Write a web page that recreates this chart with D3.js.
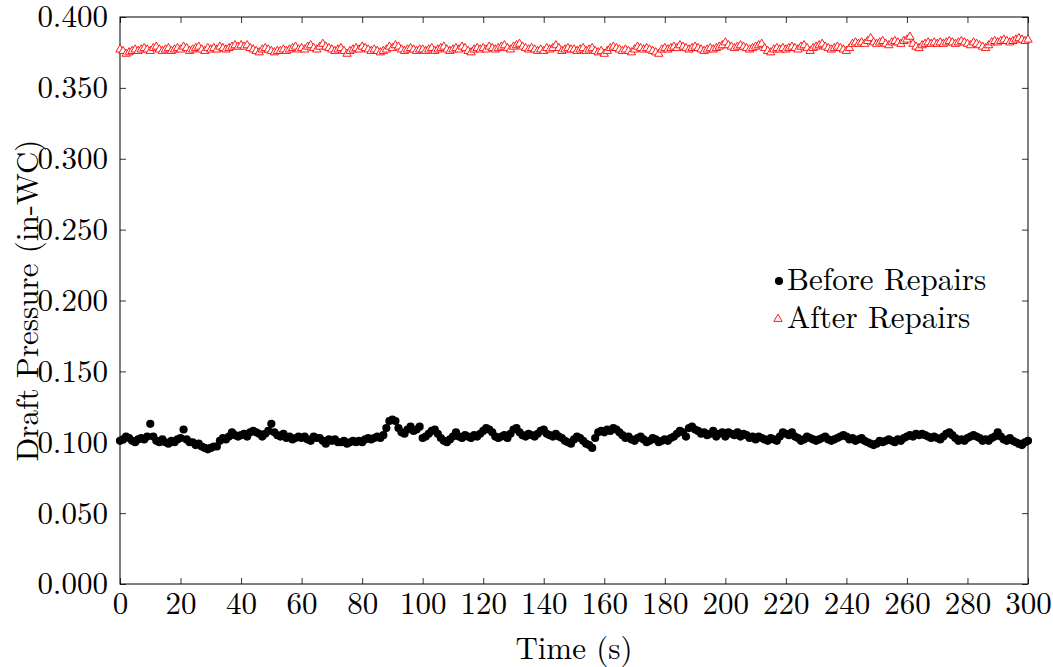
<!DOCTYPE html>
<html>
<head>
<meta charset="utf-8">
<script src="https://cdn.jsdelivr.net/npm/d3@7"></script>
<style>
  body { margin: 0; background: #fff; }
  svg text { font-family: "Latin Modern Roman", "CMU Serif", "DejaVu Serif", serif; }
</style>
</head>
<body>
<svg id="viz"></svg>
<script>
/* Data */

const seriesNames = ["Before Repairs", "After Repairs"];

const before = [
  0.101, 0.102, 0.104, 0.103, 0.101, 0.100, 0.102, 0.103, 0.102, 0.104,
  0.113, 0.104, 0.101, 0.100, 0.102, 0.100, 0.099, 0.101, 0.100, 0.102,
  0.103, 0.109, 0.102, 0.100, 0.100, 0.098, 0.099, 0.097, 0.096, 0.095,
  0.096, 0.097, 0.097, 0.101, 0.103, 0.102, 0.104, 0.107, 0.105, 0.104,
  0.105, 0.106, 0.104, 0.107, 0.108, 0.107, 0.106, 0.104, 0.106, 0.108,
  0.113, 0.107, 0.105, 0.104, 0.106, 0.103, 0.104, 0.102, 0.103, 0.104,
  0.103, 0.104, 0.102, 0.101, 0.104, 0.103, 0.103, 0.101, 0.099, 0.102,
  0.101, 0.102, 0.100, 0.100, 0.101, 0.099, 0.100, 0.101, 0.100, 0.101,
  0.100, 0.102, 0.103, 0.102, 0.103, 0.104, 0.103, 0.105, 0.110, 0.115,
  0.116, 0.115, 0.110, 0.107, 0.106, 0.109, 0.111, 0.108, 0.109, 0.111,
  0.103, 0.104, 0.106, 0.108, 0.109, 0.106, 0.103, 0.101, 0.100, 0.102,
  0.104, 0.107, 0.104, 0.103, 0.105, 0.104, 0.103, 0.105, 0.104, 0.106,
  0.108, 0.110, 0.109, 0.107, 0.104, 0.103, 0.104, 0.105, 0.103, 0.106,
  0.109, 0.110, 0.107, 0.105, 0.104, 0.106, 0.105, 0.104, 0.106, 0.108,
  0.109, 0.106, 0.105, 0.104, 0.106, 0.104, 0.103, 0.101, 0.100, 0.099,
  0.102, 0.104, 0.103, 0.101, 0.099, 0.098, 0.096, 0.103, 0.107, 0.108,
  0.107, 0.109, 0.108, 0.110, 0.109, 0.107, 0.105, 0.103, 0.104, 0.102,
  0.101, 0.103, 0.104, 0.102, 0.100, 0.101, 0.103, 0.102, 0.100, 0.101,
  0.102, 0.101, 0.103, 0.104, 0.106, 0.108, 0.107, 0.104, 0.110, 0.111,
  0.109, 0.108, 0.106, 0.107, 0.105, 0.106, 0.108, 0.104, 0.106, 0.107,
  0.104, 0.107, 0.106, 0.105, 0.107, 0.104, 0.106, 0.105, 0.103, 0.104,
  0.102, 0.104, 0.103, 0.102, 0.101, 0.103, 0.102, 0.101, 0.104, 0.107,
  0.106, 0.105, 0.107, 0.104, 0.103, 0.101, 0.102, 0.104, 0.103, 0.102,
  0.101, 0.102, 0.103, 0.104, 0.102, 0.101, 0.102, 0.103, 0.104, 0.105,
  0.104, 0.102, 0.103, 0.101, 0.102, 0.103, 0.101, 0.100, 0.099, 0.098,
  0.099, 0.101, 0.100, 0.101, 0.102, 0.101, 0.100, 0.102, 0.101, 0.103,
  0.104, 0.105, 0.104, 0.106, 0.105, 0.106, 0.105, 0.104, 0.103, 0.104,
  0.103, 0.102, 0.104, 0.106, 0.107, 0.105, 0.103, 0.101, 0.102, 0.101,
  0.103, 0.104, 0.105, 0.104, 0.103, 0.101, 0.102, 0.101, 0.103, 0.104,
  0.107, 0.104, 0.102, 0.101, 0.103, 0.101, 0.100, 0.099, 0.098, 0.100,
  0.101
];

const after = [
  0.377, 0.376, 0.374, 0.375, 0.376, 0.377, 0.376, 0.377, 0.378, 0.377,
  0.376, 0.378, 0.379, 0.377, 0.376, 0.377, 0.378, 0.376, 0.377, 0.378,
  0.377, 0.379, 0.378, 0.376, 0.377, 0.378, 0.379, 0.377, 0.376, 0.378,
  0.377, 0.378, 0.377, 0.379, 0.378, 0.377, 0.378, 0.379, 0.380, 0.379,
  0.380, 0.379, 0.380, 0.378, 0.377, 0.376, 0.375, 0.377, 0.378, 0.377,
  0.376, 0.375, 0.376, 0.376, 0.377, 0.376, 0.377, 0.378, 0.379, 0.377,
  0.378, 0.377, 0.379, 0.380, 0.378, 0.377, 0.379, 0.381, 0.379, 0.378,
  0.377, 0.376, 0.377, 0.378, 0.376, 0.374, 0.376, 0.377, 0.378, 0.377,
  0.379, 0.378, 0.377, 0.376, 0.377, 0.376, 0.375, 0.376, 0.377, 0.379,
  0.378, 0.380, 0.379, 0.377, 0.376, 0.377, 0.378, 0.377, 0.376, 0.377,
  0.377, 0.376, 0.377, 0.378, 0.376, 0.377, 0.378, 0.379, 0.377, 0.376,
  0.377, 0.378, 0.377, 0.379, 0.378, 0.376, 0.375, 0.377, 0.378, 0.377,
  0.378, 0.377, 0.379, 0.378, 0.377, 0.378, 0.379, 0.380, 0.378, 0.377,
  0.379, 0.380, 0.381, 0.379, 0.378, 0.377, 0.378, 0.377, 0.376, 0.377,
  0.376, 0.378, 0.377, 0.378, 0.380, 0.378, 0.376, 0.377, 0.378, 0.377,
  0.377, 0.376, 0.377, 0.378, 0.376, 0.377, 0.378, 0.376, 0.375, 0.376,
  0.374, 0.376, 0.378, 0.379, 0.378, 0.377, 0.376, 0.377, 0.376, 0.375,
  0.377, 0.379, 0.378, 0.377, 0.378, 0.377, 0.376, 0.375, 0.374, 0.377,
  0.378, 0.377, 0.378, 0.379, 0.378, 0.380, 0.379, 0.378, 0.377, 0.378,
  0.379, 0.378, 0.377, 0.376, 0.377, 0.378, 0.377, 0.378, 0.379, 0.380,
  0.382, 0.380, 0.379, 0.378, 0.379, 0.380, 0.379, 0.378, 0.377, 0.378,
  0.379, 0.380, 0.381, 0.378, 0.376, 0.375, 0.377, 0.378, 0.377, 0.378,
  0.377, 0.378, 0.379, 0.378, 0.377, 0.379, 0.380, 0.378, 0.376, 0.378,
  0.379, 0.380, 0.381, 0.379, 0.378, 0.377, 0.378, 0.379, 0.378, 0.377,
  0.376, 0.378, 0.381, 0.382, 0.381, 0.382, 0.381, 0.383, 0.385, 0.382,
  0.381, 0.382, 0.383, 0.381, 0.380, 0.382, 0.383, 0.382, 0.381, 0.383,
  0.384, 0.386, 0.381, 0.379, 0.378, 0.380, 0.381, 0.382, 0.381, 0.382,
  0.381, 0.382, 0.381, 0.382, 0.383, 0.382, 0.381, 0.382, 0.383, 0.382,
  0.381, 0.380, 0.382, 0.381, 0.380, 0.379, 0.378, 0.380, 0.382, 0.383,
  0.382, 0.383, 0.384, 0.383, 0.382, 0.383, 0.384, 0.385, 0.384, 0.383,
  0.384
];

const xTicks = d3.range(0, 301, 20);
const yTicks = d3.range(0, 0.4001, 0.05);

/* Environment */

const width = 1053;
const height = 667;
const margin = {left: 120, right: 25, top: 17, bottom: 83};

const svg = d3.select('#viz')
    .attr('width', width)
    .attr('height', height);

/* Scales */

const x = d3.scaleLinear()
    .domain([0, 300])
    .range([margin.left, width - margin.right]);

const y = d3.scaleLinear()
    .domain([0, 0.4])
    .range([height - margin.bottom, margin.top]);

const fontSize = 31;

/* Axes (ticks inside, mirrored) */

const gX = svg.append("g")
    .attr("transform", `translate(0,${height - margin.bottom})`)
    .call(d3.axisBottom(x).tickValues(xTicks).tickSizeInner(-6).tickSizeOuter(0).tickPadding(8));

const gXTop = svg.append("g")
    .attr("transform", `translate(0,${margin.top})`)
    .call(d3.axisTop(x).tickValues(xTicks).tickSizeInner(-6).tickSizeOuter(0).tickFormat(""));

const gY = svg.append("g")
    .attr("transform", `translate(${margin.left},0)`)
    .call(d3.axisLeft(y).tickValues(yTicks).tickSizeInner(-6).tickSizeOuter(0)
      .tickPadding(12).tickFormat(d3.format(".3f")));

const gYRight = svg.append("g")
    .attr("transform", `translate(${width - margin.right},0)`)
    .call(d3.axisRight(y).tickValues(yTicks).tickSizeInner(-6).tickSizeOuter(0).tickFormat(""));

[gX, gXTop, gY, gYRight].forEach(g => {
  g.select(".domain").remove();
  g.selectAll(".tick line").attr("stroke", "#000").attr("stroke-width", 0.8);
  g.selectAll("text")
      .attr("fill", "#000")
      .attr("font-size", fontSize);
});

/* Frame */

svg.append("rect")
    .attr("x", margin.left)
    .attr("y", margin.top)
    .attr("width", width - margin.left - margin.right)
    .attr("height", height - margin.top - margin.bottom)
    .attr("fill", "none")
    .attr("stroke", "#000")
    .attr("stroke-width", 1);

/* Axis labels */

svg.append("text")
    .attr("x", (x.range()[0] + x.range()[1]) / 2)
    .attr("y", 659)
    .attr("text-anchor", "middle")
    .attr("font-size", fontSize)
    .text("Time (s)");

svg.append("text")
    .attr("transform", `translate(38,${(y.range()[0] + y.range()[1]) / 2}) rotate(-90)`)
    .attr("text-anchor", "middle")
    .attr("font-size", fontSize)
    .text("Draft Pressure (in-WC)");

/* Marks */

const triangle = d3.symbol().type(d3.symbolTriangle).size(30);

svg.append("g")
    .selectAll("circle")
    .data(before)
    .join("circle")
    .attr("cx", (d, i) => x(i))
    .attr("cy", d => y(d))
    .attr("r", 4.1)
    .attr("fill", "#000");

svg.append("g")
    .selectAll("path")
    .data(after)
    .join("path")
    .attr("transform", (d, i) => `translate(${x(i)},${y(d)})`)
    .attr("d", triangle)
    .attr("fill", "#fff")
    .attr("stroke", "#f00")
    .attr("stroke-width", 0.9);

/* Legend */

const gLegend = svg.append("g")
    .attr("transform", "translate(779,281)");

const item = gLegend.selectAll("g")
    .data(seriesNames)
    .join("g")
    .attr("transform", (d, i) => `translate(0,${i * 38})`);

item.filter((d, i) => i === 0).append("circle")
    .attr("r", 4.1)
    .attr("fill", "#000");

item.filter((d, i) => i === 1).append("path")
    .attr("transform", "translate(-1,0)")
    .attr("d", triangle)
    .attr("fill", "#fff")
    .attr("stroke", "#f00")
    .attr("stroke-width", 0.9);

item.append("text")
    .attr("x", 8)
    .attr("y", 9)
    .attr("font-size", fontSize)
    .text(d => d);
</script>
</body>
</html>
